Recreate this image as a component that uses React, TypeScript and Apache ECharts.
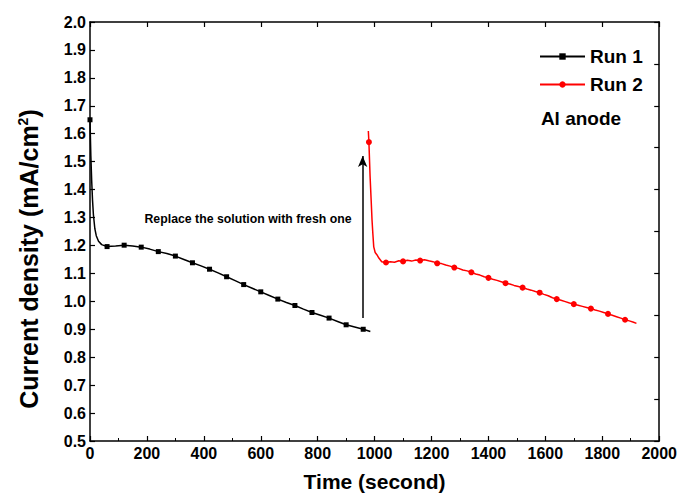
import React, { useEffect, useRef } from "react";
import * as echarts from "echarts";

// Run 1 (black, square markers every 60 s)
const run1Time = [0, 3, 6, 9, 12, 17, 22, 30, 41, 60, 90, 120, 150, 180, 210, 240, 270, 300, 330, 360, 390, 420, 450, 480, 510, 540, 570, 600, 630, 660, 690, 720, 750, 780, 810, 840, 870, 900, 930, 960, 985];
const run1Value = [1.65, 1.52, 1.43, 1.36, 1.31, 1.26, 1.235, 1.215, 1.203, 1.196, 1.198, 1.201, 1.198, 1.194, 1.187, 1.178, 1.171, 1.162, 1.15, 1.138, 1.127, 1.115, 1.102, 1.088, 1.074, 1.06, 1.047, 1.034, 1.021, 1.008, 0.996, 0.985, 0.972, 0.96, 0.95, 0.94, 0.928, 0.916, 0.908, 0.9, 0.892];

// Run 2 (red, circle markers every 60 s from 980 s)
const run2Time = [978, 980, 984, 988, 991, 994, 997, 1002, 1008, 1015, 1025, 1040, 1055, 1070, 1085, 1100, 1115, 1130, 1145, 1160, 1175, 1190, 1205, 1220, 1235, 1250, 1265, 1280, 1295, 1310, 1325, 1340, 1355, 1370, 1385, 1400, 1415, 1430, 1445, 1460, 1475, 1490, 1505, 1520, 1535, 1550, 1565, 1580, 1595, 1610, 1625, 1640, 1655, 1670, 1685, 1700, 1715, 1730, 1745, 1760, 1775, 1790, 1805, 1820, 1835, 1850, 1865, 1880, 1895, 1910, 1920];
const run2Value = [1.61, 1.57, 1.45, 1.36, 1.29, 1.24, 1.195, 1.175, 1.167, 1.155, 1.142, 1.139, 1.142, 1.14, 1.145, 1.143, 1.147, 1.144, 1.148, 1.146, 1.149, 1.145, 1.142, 1.136, 1.135, 1.13, 1.126, 1.121, 1.118, 1.112, 1.109, 1.104, 1.098, 1.094, 1.088, 1.084, 1.079, 1.075, 1.07, 1.065, 1.062, 1.057, 1.053, 1.049, 1.044, 1.04, 1.035, 1.031, 1.025, 1.02, 1.013, 1.008, 1.004, 0.999, 0.994, 0.99, 0.986, 0.982, 0.978, 0.974, 0.969, 0.965, 0.96, 0.955, 0.95, 0.945, 0.94, 0.934, 0.93, 0.925, 0.921];

// Arrow annotation (time, current density)
const arrowTime = 958;
const arrowFrom = 0.94;
const arrowTo = 1.52;

const xTicks = { min: 0, max: 2000, interval: 200 };
const yTicks = { min: 0.5, max: 2.0, interval: 0.1 };

const FONT = "'Liberation Sans', Arial, sans-serif";

export default function App() {
  const ref = useRef<HTMLDivElement>(null);
  useEffect(() => {
    if (!ref.current) return;
    const chart = echarts.init(ref.current, undefined, { renderer: "svg" });
    const run1Data = run1Time.map((t, i) => ({
      value: [t, run1Value[i]],
      symbol: t % 60 === 0 ? "rect" : "none",
    }));
    const run2Data = run2Time.map((t, i) => ({
      value: [t, run2Value[i]],
      symbol: t >= 980 && (t - 980) % 60 === 0 ? "circle" : "none",
    }));
    const axisLine = { show: true, onZero: false, lineStyle: { color: "#000", width: 1.5 } };
    chart.setOption({
      animation: false,
      backgroundColor: "#fff",
      textStyle: { fontFamily: FONT },
      grid: { left: 90, right: 18, top: 22, bottom: 52, containLabel: false },
      legend: {
        orient: "vertical",
        left: 534,
        top: 42,
        itemWidth: 45,
        itemHeight: 8,
        itemGap: 9,
        textStyle: { fontSize: 19, fontWeight: "bold", color: "#000", fontFamily: FONT },
        data: ["Run 1", "Run 2"],
      },
      xAxis: [
        {
          type: "value",
          ...xTicks,
          position: "bottom",
          axisLine,
          axisTick: { show: true, inside: true, length: 5, lineStyle: { color: "#000", width: 1.2 } },
          minorTick: { show: true, splitNumber: 2, length: 3, lineStyle: { color: "#000", width: 1 } },
          axisLabel: {
            fontSize: 16,
            fontWeight: "bold",
            color: "#000",
            margin: 4,
            fontFamily: FONT,
            formatter: (v: number) => String(v),
          },
          splitLine: { show: false },
          name: "Time (second)",
          nameLocation: "middle",
          nameGap: 30,
          nameTextStyle: { fontSize: 21, fontWeight: "bold", color: "#000", fontFamily: FONT },
        },
        {
          type: "value",
          ...xTicks,
          position: "top",
          axisLine,
          axisTick: { show: true, inside: true, length: 5, lineStyle: { color: "#000", width: 1.2 } },
          axisLabel: { show: false },
          splitLine: { show: false },
        },
      ],
      yAxis: [
        {
          type: "value",
          ...yTicks,
          position: "left",
          axisLine,
          axisTick: { show: true, inside: true, length: 5, lineStyle: { color: "#000", width: 1.2 } },
          axisLabel: {
            fontSize: 16,
            fontWeight: "bold",
            color: "#000",
            margin: 4,
            fontFamily: FONT,
            formatter: (v: number) => v.toFixed(1),
          },
          splitLine: { show: false },
        },
        {
          type: "value",
          min: 0,
          max: 10,
          interval: 1,
          position: "right",
          axisLine,
          axisTick: { show: true, inside: true, length: 5, lineStyle: { color: "#000", width: 1.2 } },
          axisLabel: { show: false },
          splitLine: { show: false },
        },
      ],
      series: [
        {
          name: "Run 1",
          type: "line",
          xAxisIndex: 0,
          yAxisIndex: 0,
          data: run1Data,
          symbol: "rect",
          symbolSize: 5,
          showAllSymbol: true,
          lineStyle: { color: "#000", width: 1.5 },
          itemStyle: { color: "#000" },
          markLine: {
            silent: true,
            symbol: ["none", "arrow"],
            symbolSize: [7, 11],
            label: { show: false },
            lineStyle: { color: "#000", width: 1.5, type: "solid" },
            data: [[{ coord: [arrowTime, arrowFrom] }, { coord: [arrowTime, arrowTo] }]],
          },
        },
        {
          name: "Run 2",
          type: "line",
          xAxisIndex: 0,
          yAxisIndex: 0,
          data: run2Data,
          symbol: "circle",
          symbolSize: 6,
          showAllSymbol: true,
          lineStyle: { color: "#ff0000", width: 1.5 },
          itemStyle: { color: "#ff0000" },
        },
      ],
      graphic: [
        {
          type: "text",
          x: 29,
          y: 259,
          rotation: Math.PI / 2,
          style: {
            text: "{a|Current density (mA/cm}{s|2}{a|)}",
            align: "center",
            verticalAlign: "middle",
            rich: {
              a: { fontSize: 25, fontWeight: "bold", fill: "#000", fontFamily: FONT },
              s: { fontSize: 14, fontWeight: "bold", fill: "#000", fontFamily: FONT, verticalAlign: "top", padding: [0, 0, 12, 0] },
            },
          },
        },
        {
          type: "text",
          x: 248,
          y: 219,
          style: {
            text: "Replace the solution with fresh one",
            align: "center",
            verticalAlign: "middle",
            fontSize: 12.3,
            fontWeight: "bold",
            fill: "#000",
            fontFamily: FONT,
          },
        },
        {
          type: "text",
          x: 581,
          y: 118,
          style: {
            text: "Al anode",
            align: "center",
            verticalAlign: "middle",
            fontSize: 19,
            fontWeight: "bold",
            fill: "#000",
            fontFamily: FONT,
          },
        },
      ],
    });
    return () => chart.dispose();
  }, []);
  return <div ref={ref} style={{ width: 680, height: 497, position: "absolute", left: 0, top: 0 }} />;
}
